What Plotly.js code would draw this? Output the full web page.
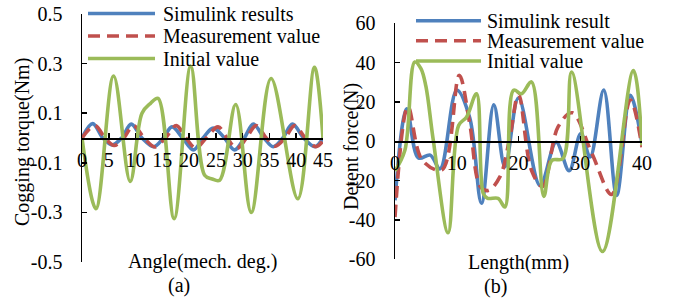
<!DOCTYPE html>
<html><head><meta charset="utf-8">
<script src="https://cdn.plot.ly/plotly-3.0.1.min.js"></script>
<style>html,body{margin:0;padding:0;background:#fff}#chart{width:681px;height:300px}</style>
</head><body><div id="chart"></div>
<script>
// ---- (a) Cogging torque vs angle ----
const angleSim   = [0, 2.0, 3.9, 5.6, 7.4, 9.2, 11.2, 13.4, 15.2, 16.8, 18.8, 20.8, 22.6, 24.5, 26.6, 28.5, 30.3, 32.0, 34.0, 35.7, 37.5, 39.3, 41.4, 43.5, 45];
const torqueSim  = [0, 0.058, 0, -0.028, 0, 0.056, 0, -0.035, 0, 0.045, 0, -0.048, 0, 0.040, 0, -0.048, 0, 0.056, 0, -0.035, 0, 0.056, 0, -0.035, 0];
const angleMeas  = [0, 2.4, 4.3, 6.0, 7.8, 9.6, 11.6, 13.6, 15.6, 17.6, 19.4, 21.2, 23.2, 25.4, 27.1, 28.9, 30.7, 32.5, 34.4, 36.1, 37.9, 39.7, 41.7, 43.7, 45];
const torqueMeas = [0, 0.050, 0, -0.030, 0, 0.050, 0, -0.036, 0, 0.050, 0, -0.040, 0, 0.045, 0, -0.042, 0, 0.050, 0, -0.033, 0, 0.050, 0, -0.035, -0.012];
const angleInit  = [0, 2.6, 5.9, 9.0, 11.2, 12.8, 14.2, 17.2, 20.3, 22.9, 24.3, 25.7, 28.7, 31.6, 35.3, 40.3, 43.4, 45];
const torqueInit = [0, -0.285, 0.25, -0.175, 0.10, 0.14, 0.16, -0.325, 0.29, -0.15, -0.165, -0.17, 0.135, -0.30, 0.24, -0.245, 0.285, 0.0];
const angleTicks = [0, 5, 10, 15, 20, 25, 30, 35, 40, 45];
const torqueTicks = [-0.5, -0.3, -0.1, 0.1, 0.3, 0.5];
const torqueTickText = ['-0.5', '-0.3', '-0.1', '0.1', '0.3', '0.5'];

// ---- (b) Detent force vs length ----
const lenSim    = [0, 1.9, 3.8, 5.7, 7.3, 10.0, 12.1, 14.0, 16.0, 17.8, 20.0, 23.5, 26.1, 28.2, 30.1, 31.6, 33.8, 35.9, 38.1, 40];
const forceSim  = [-30, 16.5, -8.5, -7, -14, 26, 12, -31.5, 18.5, -13, 22, -22.5, -0.5, -15, 4, -8, 26, -27.5, 23.4, -1];
const lenMeas   = [0, 2.1, 4.4, 7.6, 10.4, 12.1, 13.8, 15.1, 17.0, 18.6, 20.0, 22.1, 23.9, 26.4, 28.7, 31.9, 35.1, 38.1, 40];
const forceMeas = [-38.5, 17.5, -9.5, -14.5, 33.5, 9, -23, -25, -18, 2, 24, -14.7, -23, 7.3, 14.5, -6.3, -27, 21, -3];
const lenInit   = [0, 1.6, 3.2, 4.2, 5.0, 6.2, 8.6, 10.3, 11.6, 13.2, 14.3, 15.0, 16.7, 17.8, 19.2, 20.5, 22.1, 24.1, 25.4, 27.2, 28.6, 33.6, 38.6, 40];
const forceInit = [-15, -4.6, 40.3, 37, 28, 0.5, -46.5, 8, 12.4, 24.2, -26.6, -29, -29, -33.4, 26, 24.2, 30.2, -28, -9.7, -8.8, 35.2, -56, 36, -2];
const lenTicks = [0, 10, 20, 30, 40];
const forceTicks = [-60, -40, -20, 0, 20, 40, 60];
const forceTickText = ['-60', '-40', '-20', '0', '20', '40', '60'];

const namesA = ['Simulink results', 'Measurement value', 'Initial value'];
const namesB = ['Simulink result', 'Measurement value', 'Initial value'];

const FONT = 'Liberation Serif, Times New Roman, serif';
const C_BLUE = '#4F81BD', C_RED = '#C0504D', C_GREEN = '#9BBB59';
const W = 681, H = 300;
const px = v => v / W, py = v => 1 - v / H;
const DASH = '12px,7px';

function tr(x, y, name, color, dash, xa, ya) {
  return {x: x, y: y, name: name, type: 'scatter', mode: 'lines', xaxis: xa, yaxis: ya,
    showlegend: false,
    line: {color: color, width: 3.6, shape: 'spline', smoothing: 1, dash: dash}};
}

const data = [
  tr(angleSim, torqueSim, namesA[0], C_BLUE, 'solid', 'x', 'y'),
  tr(angleMeas, torqueMeas, namesA[1], C_RED, DASH, 'x', 'y'),
  tr(angleInit, torqueInit, namesA[2], C_GREEN, 'solid', 'x', 'y'),
  tr(lenSim, forceSim, namesB[0], C_BLUE, 'solid', 'x2', 'y2'),
  tr(lenMeas, forceMeas, namesB[1], C_RED, DASH, 'x2', 'y2'),
  tr(lenInit, forceInit, namesB[2], C_GREEN, 'solid', 'x2', 'y2')
];

const tf = {family: FONT, size: 20, color: '#000'};
const yDomA = [py(262), py(14)], yDomB = [py(259.3), py(23.3)];
function xax(dom, rng, ticks, yd) {
  return {domain: dom, range: rng, anchor: 'free', position: (yd[0] + yd[1]) / 2,
    tickmode: 'array', tickvals: ticks, ticktext: ticks.map(String),
    showline: true, linecolor: '#000', linewidth: 1.5, ticks: 'inside', ticklen: 5,
    tickwidth: 1.5, tickcolor: '#000', showgrid: false, zeroline: false,
    tickfont: tf, ticklabelstandoff: 3, fixedrange: true};
}
function yax(dom, rng, ticks, txt, anchor) {
  return {domain: dom, range: rng, anchor: anchor, tickmode: 'array', tickvals: ticks, ticktext: txt,
    showline: true, linecolor: '#000', linewidth: 1.5, ticks: 'inside', ticklen: 5,
    tickwidth: 1.5, tickcolor: '#000', showgrid: false, zeroline: false,
    tickfont: tf, ticklabelstandoff: 14, fixedrange: true};
}

const shapes = [], annotations = [];
function legend(x0, x1, xt, rows, names) {
  const cols = [C_BLUE, C_RED, C_GREEN], dashes = ['solid', DASH, 'solid'];
  for (let i = 0; i < 3; i++) {
    shapes.push({type: 'line', xref: 'paper', yref: 'paper', x0: px(x0), x1: px(x1), y0: py(rows[i]), y1: py(rows[i]),
      line: {color: cols[i], width: 3.6, dash: dashes[i]}});
    annotations.push({text: names[i], xref: 'paper', yref: 'paper', x: px(xt), y: py(rows[i]),
      xanchor: 'left', yanchor: 'middle', showarrow: false, font: tf});
  }
}
legend(88, 155, 161, [13.5, 36, 58.5], namesA);
legend(416, 481, 485, [20.7, 40.7, 61], namesB);

function txt(s, x, y, angle) {
  annotations.push({text: s, xref: 'paper', yref: 'paper', x: px(x), y: py(y), xanchor: 'center', yanchor: 'middle',
    showarrow: false, font: tf, textangle: angle || 0});
}
txt('Cogging torque(Nm)', 22.5, 142.5, -90);
txt('Detent force(N)', 351, 147, -90);
txt('Angle(mech. deg.)', 202.5, 261);
txt('Length(mm)', 518, 262);
txt('(a)', 178.5, 285);
txt('(b)', 495, 286);

const layout = {
  width: W, height: H, margin: {l: 0, r: 0, t: 0, b: 0},
  paper_bgcolor: '#fff', plot_bgcolor: 'rgba(0,0,0,0)',
  font: tf, showlegend: false,
  xaxis: xax([px(82), px(323)], [0, 45], angleTicks, yDomA),
  yaxis: yax(yDomA, [-0.5, 0.5], torqueTicks, torqueTickText, 'x'),
  xaxis2: xax([px(395), px(642)], [0, 40], lenTicks, yDomB),
  yaxis2: yax(yDomB, [-60, 60], forceTicks, forceTickText, 'x2'),
  shapes: shapes, annotations: annotations
};

Plotly.newPlot('chart', data, layout, {staticPlot: true, displayModeBar: false});
</script>
</body></html>
